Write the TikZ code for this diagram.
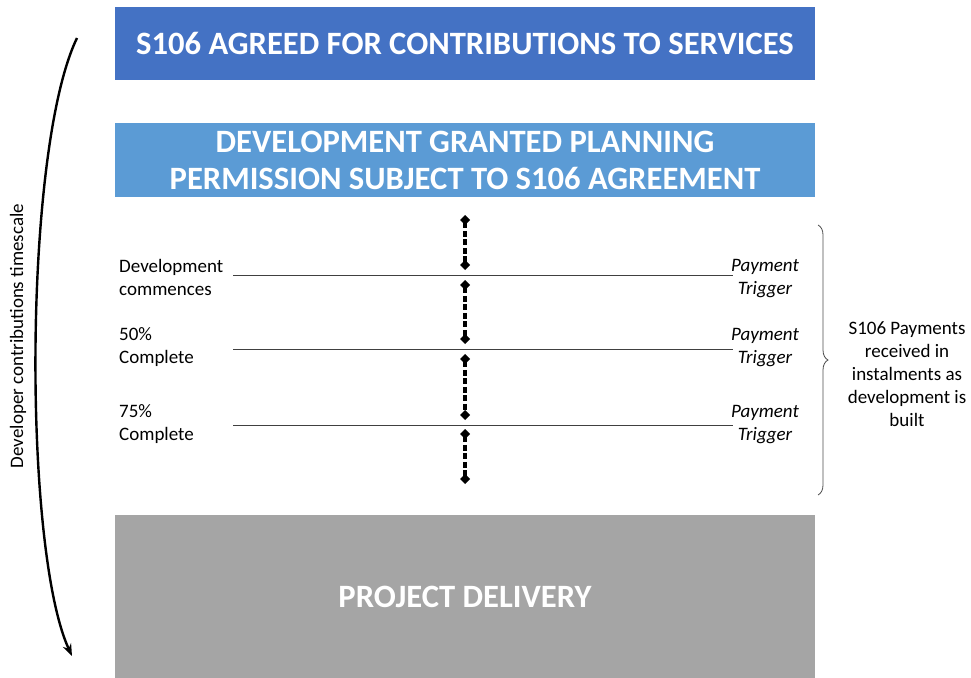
\documentclass[tikz,border=0pt]{standalone}
\usepackage{fontspec}
\setmainfont{Carlito}
\usetikzlibrary{arrows.meta,decorations.pathreplacing}
\definecolor{agreedblue}{HTML}{4472C4}
\definecolor{grantedblue}{HTML}{5B9BD5}
\definecolor{deliverygrey}{HTML}{A5A5A5}
\tikzset{
  banner/.style={inner sep=0pt,minimum width=700pt,text=white,align=center,
    font=\fontsize{32.6}{37}\selectfont\bfseries},
  stage/.style={anchor=west,align=left,inner sep=0pt,font=\fontsize{19}{23}\selectfont},
  trigger/.style={align=center,inner sep=0pt,font=\fontsize{19}{23}\selectfont\itshape},
  milestone/.style={draw=black!75,line width=0.7pt},
  rod/.style={line width=3.6pt,dash pattern=on 6pt off 2.5pt,
    {Diamond[length=10pt,width=10pt]}-{Diamond[length=10pt,width=10pt]}},
}
\begin{document}
\begin{tikzpicture}[x=1pt,y=-1pt]
\useasboundingbox (0,0) rectangle (971,677);
% banners
\node[banner,fill=agreedblue,minimum height=73pt] (agreed) at (465,43.5)
  {S106 AGREED FOR CONTRIBUTIONS TO SERVICES};
\node[banner,fill=grantedblue,minimum height=74pt] (granted) at (465,160)
  {DEVELOPMENT GRANTED PLANNING\\PERMISSION SUBJECT TO S106 AGREEMENT};
\node[banner,fill=deliverygrey,minimum height=164pt] (delivery) at (465,597)
  {PROJECT DELIVERY};
% stages and triggers
\node[stage] (commence) at (119,277) {Development\\commences};
\node[stage] (half) at (119,347.5) {50\%\\Complete};
\node[stage] (threeq) at (119,424.5) {75\%\\Complete};
\node[trigger] (payA) at (765,278.5) {Payment\\Trigger};
\node[trigger] (payB) at (765,347.5) {Payment\\Trigger};
\node[trigger] (payC) at (765,424.5) {Payment\\Trigger};
\coordinate (lineA) at (233,275); \coordinate (lineA') at (733,275);
\coordinate (lineB) at (233,349); \coordinate (lineB') at (733,349);
\coordinate (lineC) at (233,425); \coordinate (lineC') at (733,425);
\draw[milestone] (lineA) -- (lineA');
\draw[milestone] (lineB) -- (lineB');
\draw[milestone] (lineC) -- (lineC');
% timeline rod
\coordinate (r0) at (465,215); \coordinate (r1) at (465,270);
\coordinate (r2) at (465,280); \coordinate (r3) at (465,344);
\coordinate (r4) at (465,354); \coordinate (r5) at (465,420);
\coordinate (r6) at (465,429); \coordinate (r7) at (465,484);
\draw[rod] (r0) -- (r1);
\draw[rod] (r2) -- (r3);
\draw[rod] (r4) -- (r5);
\draw[rod] (r6) -- (r7);
% brace
\coordinate (braceTop) at (818,225); \coordinate (braceBot) at (818,495);
\draw[black!70,line width=0.8pt,decorate,decoration={brace,amplitude=10pt}] (braceTop) -- (braceBot);
\node[align=center,inner sep=0pt,font=\fontsize{19}{23}\selectfont] (instal) at (907,374)
  {S106 Payments\\received in\\instalments as\\development is\\built};
% timescale arrow
\coordinate (tStart) at (77,38); \coordinate (tEnd) at (72,656);
\draw[line width=2.4pt,-{Stealth[length=12pt,width=9pt]}] (tStart) .. controls (23,150) and (23,550) .. (tEnd);
\node[rotate=90,inner sep=0pt,font=\fontsize{19}{23}\selectfont] (scale) at (18,336) {Developer contributions timescale};
\end{tikzpicture}
\end{document}
